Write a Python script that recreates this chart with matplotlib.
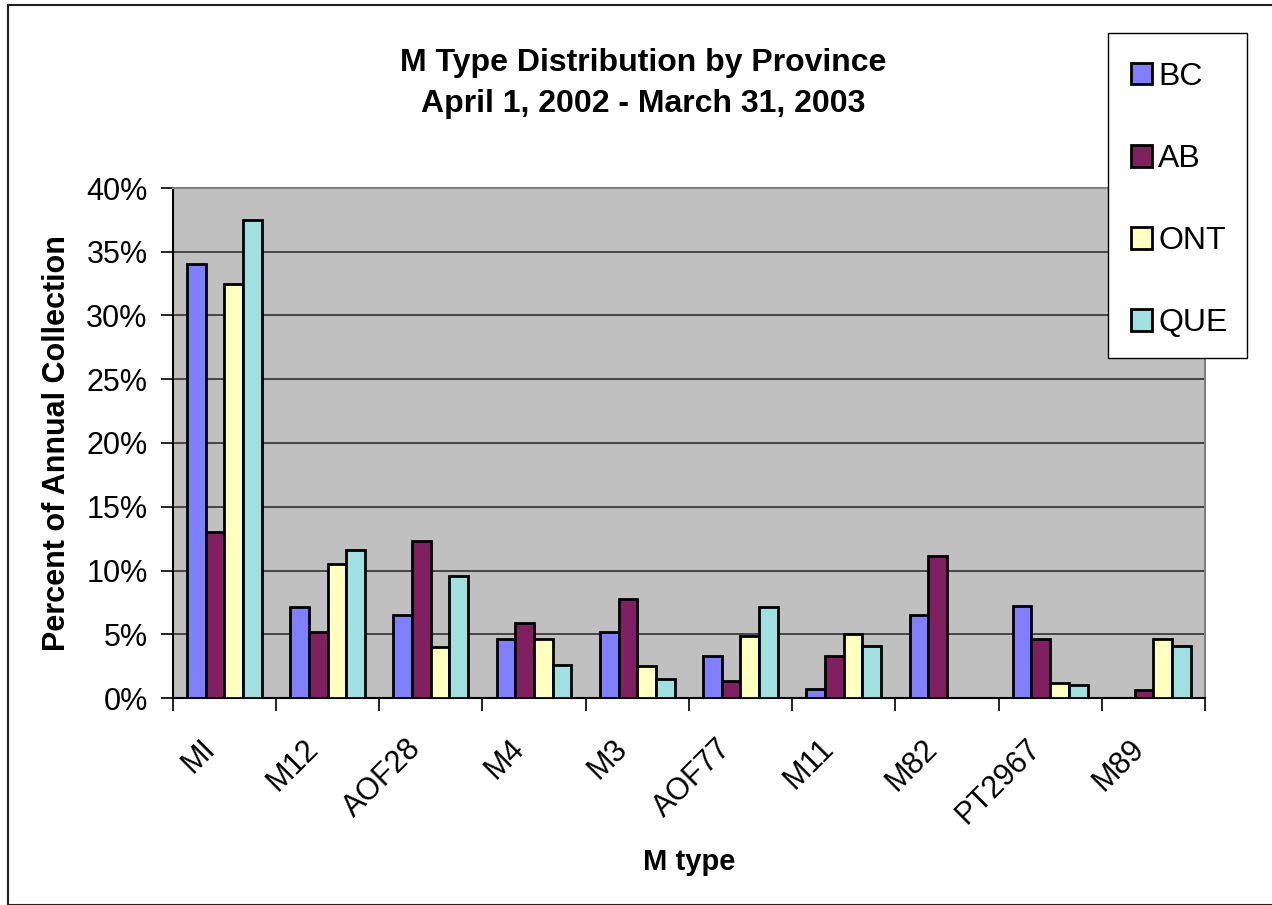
import matplotlib.pyplot as plt
from matplotlib.patches import Rectangle
from matplotlib.ticker import FuncFormatter
from matplotlib.transforms import ScaledTranslation
import numpy as np

plt.rcParams['font.family'] = ['Liberation Sans', 'DejaVu Sans']

categories = ["MI", "M12", "AOF28", "M4", "M3", "AOF77", "M11", "M82", "PT2967", "M89"]
bc = [34.0, 7.1, 6.5, 4.6, 5.2, 3.3, 0.7, 6.5, 7.2, 0.0]
ab = [13.0, 5.2, 12.3, 5.9, 7.8, 1.3, 3.3, 11.1, 4.6, 0.65]
ont = [32.5, 10.5, 4.0, 4.6, 2.5, 4.9, 5.0, 0.0, 1.2, 4.6]
que = [37.5, 11.6, 9.6, 2.6, 1.5, 7.1, 4.1, 0.0, 1.0, 4.1]

series = [("BC", bc, "#8080FF"), ("AB", ab, "#802060"),
          ("ONT", ont, "#FFFFC0"), ("QUE", que, "#A0E0E0")]

fig = plt.figure(figsize=(12.72, 9.05), dpi=100)
ax = fig.add_axes([172.7 / 1272, 1 - 698 / 905, (1205 - 172.7) / 1272, (698 - 188) / 905])
ax.set_facecolor("#C0C0C0")

x = np.arange(len(categories))
w = 0.181
for i, (name, vals, col) in enumerate(series):
    ax.bar(x + (i - 1.5) * w, vals, w, color=col, edgecolor="black",
           linewidth=2.0, label=name, zorder=3)

ax.set_xlim(-0.5, len(categories) - 0.5)
ax.set_ylim(0, 40)
ax.set_yticks(np.arange(0, 41, 5))
ax.yaxis.set_major_formatter(FuncFormatter(lambda v, p: f"{v:.0f}%"))
ax.yaxis.grid(True, color="#303030", linewidth=1.2, zorder=0)

# ticks sit between categories, labels are placed by hand under each group
ax.set_xticks(np.arange(-0.5, len(categories), 1.0))
ax.set_xticklabels([])
ax.tick_params(axis="x", length=9, width=1.2, direction="out")
ax.tick_params(axis="y", length=9, width=1.2, labelsize=22, pad=9)
lbl_tr = ax.get_xaxis_transform() + ScaledTranslation(-0.14, -0.46, fig.dpi_scale_trans)
for xi, cat in zip(x, categories):
    ax.text(xi, 0, cat, transform=lbl_tr, rotation=45, ha="right", va="center",
            rotation_mode="anchor", fontsize=22, clip_on=False)

for s in ["top", "right"]:
    ax.spines[s].set_color("#808080")
    ax.spines[s].set_linewidth(1.5)
for s in ["left", "bottom"]:
    ax.spines[s].set_color("black")
    ax.spines[s].set_linewidth(1.5)

ax.set_ylabel("Percent of Annual Collection", fontsize=22, fontweight="bold")
ax.yaxis.set_label_coords((72 - 172.7) / 1032.3, 0.5)
fig.text(689 / 1272, 1 - 862 / 905, "M type", ha="center", va="center",
         fontsize=21, fontweight="bold")

fig.text(643 / 1272, 1 - 63 / 905, "M Type Distribution by Province",
         ha="center", va="center", fontsize=23, fontweight="bold")
fig.text(643 / 1272, 1 - 104 / 905, "April 1, 2002 - March 31, 2003",
         ha="center", va="center", fontsize=23, fontweight="bold")

# legend box drawn separately so the inner padding can match
fig.patches.append(Rectangle((1108 / 1272, 1 - 358 / 905), 139 / 1272, 325 / 905,
                             transform=fig.transFigure, facecolor="white",
                             edgecolor="black", linewidth=1.0, zorder=4))
leg = fig.legend(loc="upper left", bbox_to_anchor=(1131 / 1272, 1 - 62 / 905),
                 fontsize=23, frameon=False, handlelength=0.65, handleheight=0.65,
                 handletextpad=0.2, labelspacing=1.63, borderpad=0, borderaxespad=0)
leg.set_zorder(5)

fig.patches.append(Rectangle((8 / 1272, 0), 2.0, 1 - 5 / 905, transform=fig.transFigure,
                             fill=False, edgecolor="#202020", linewidth=1.5))

fig.savefig("out.png", dpi=100)
